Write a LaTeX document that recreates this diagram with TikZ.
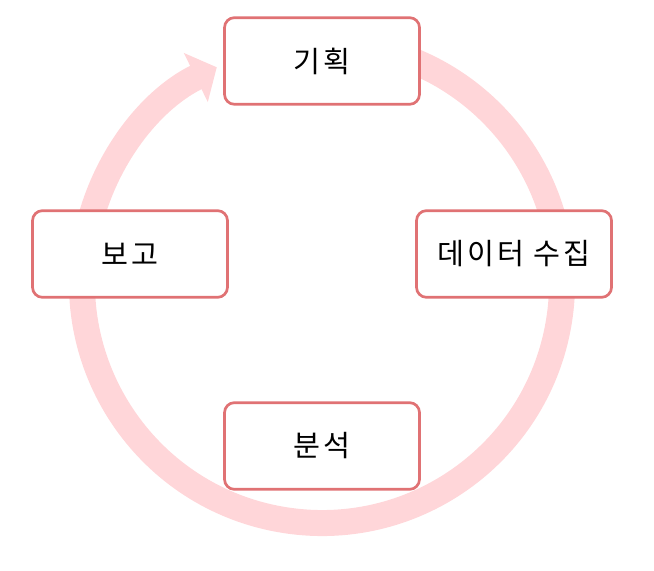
\documentclass[tikz,border=0pt]{standalone}
\usepackage{fontspec}
\newfontfamily\krfont[LetterSpace=10]{Noto Sans CJK KR}
\usetikzlibrary{arrows.meta}
\definecolor{ringpink}{HTML}{FFD6D9}
\definecolor{stageline}{HTML}{E07274}

\begin{document}
\begin{tikzpicture}[
    x=0.03cm, y=0.03cm,
    stage/.style={rectangle, rounded corners=0.3cm, draw=stageline, line width=2.3pt, fill=white,
        minimum width=5.85cm, minimum height=2.6cm, inner sep=0pt,
        font=\krfont\fontsize{25}{30}\selectfont},
    ring/.style={draw=ringpink, line width=0.78cm, -{Triangle[width=1.6cm, length=0.7cm]}}
]
    \useasboundingbox (0,0) rectangle (654,571);

    % --- the cycle ring (drawn first, the boxes sit on it)
    \coordinate (hub) at (322,288);
    \draw[ring] (hub) ++(80:7.2cm) arc[start angle=80, end angle=-244, radius=7.2cm];

    % --- the four stages
    \node[stage] (plan)    at (322,510) {기획};
    \node[stage] (collect) at (514,317) {데이터 수집};
    \node[stage] (analyze) at (322,125) {분석};
    \node[stage] (report)  at (130,317) {보고};

\end{tikzpicture}
\end{document}
